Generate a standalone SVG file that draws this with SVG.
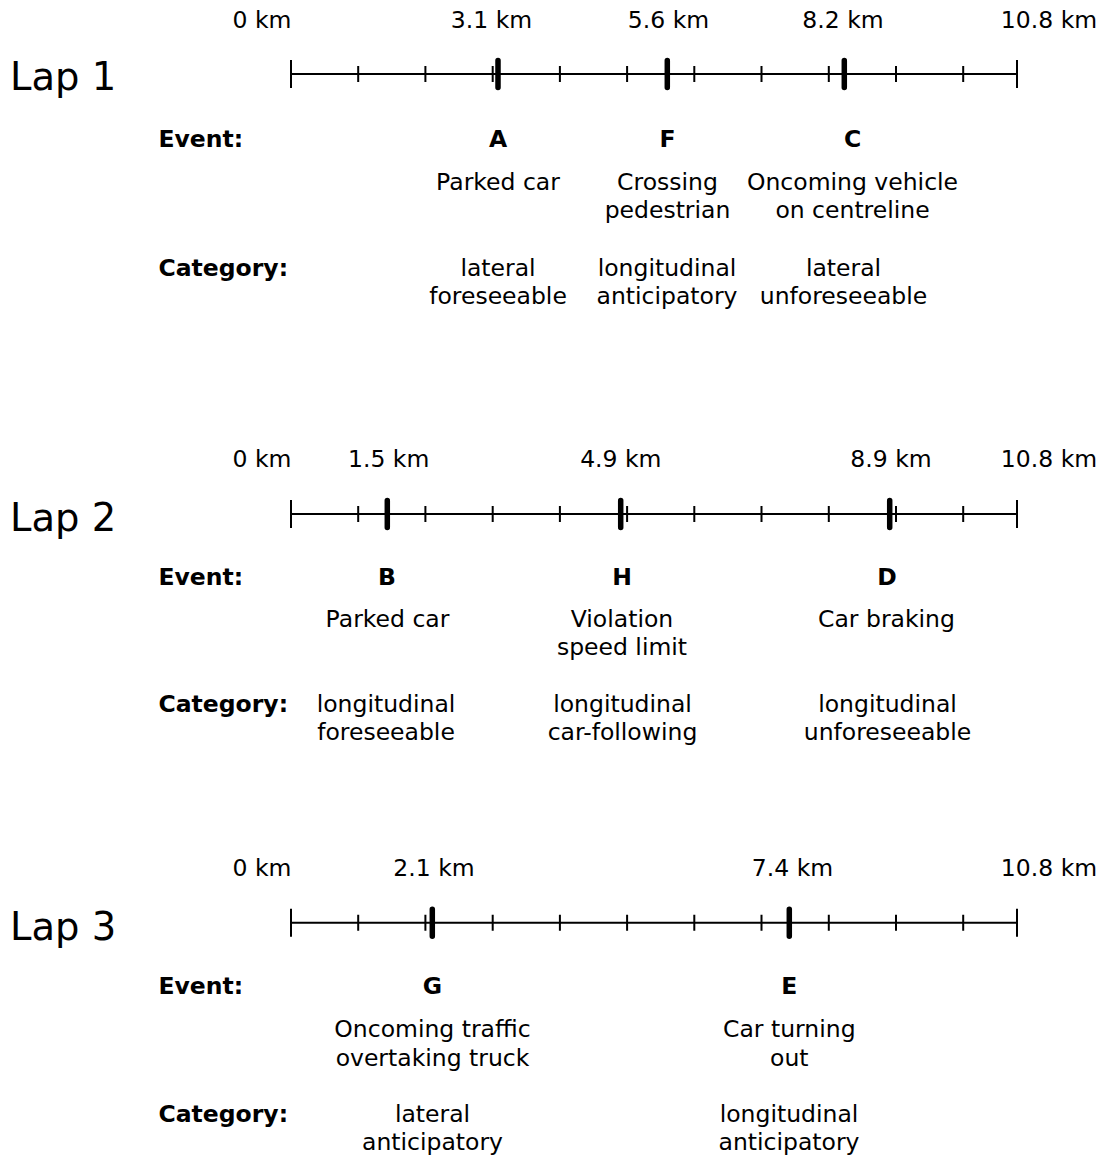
<svg xmlns="http://www.w3.org/2000/svg" width="1105" height="1157" viewBox="0 0 1105 1157">
<style>
text{font-family:"DejaVu Sans","Verdana","Liberation Sans",sans-serif;fill:#000}
.t{font-size:23.5px;text-anchor:middle}
.b{font-size:23.5px;font-weight:bold}
.bc{font-size:23.5px;font-weight:bold;text-anchor:middle}
.lap{font-size:38.5px}
.ax{stroke:#000;stroke-width:2;fill:none}
.mk{stroke:#000;stroke-width:5.5;stroke-linecap:round;fill:none}
</style>
<defs>
<g id="axis">
<path class="ax" d="M291,0H1017M291,-14V14M1017,-14V14M358.2,-8V8M425.4,-8V8M492.7,-8V8M559.9,-8V8M627.1,-8V8M694.3,-8V8M761.5,-8V8M828.8,-8V8M896,-8V8M963.2,-8V8"/>
</g>
</defs>
<rect width="1105" height="1157" fill="#fff"/>

<g id="lap1">
<text class="lap" x="10" y="90">Lap 1</text>
<use href="#axis" transform="translate(0,74)"/>
<g class="t">
<text x="262" y="28.3">0 km</text>
<text x="491.5" y="28.3">3.1 km</text>
<text x="668.5" y="28.3">5.6 km</text>
<text x="843" y="28.3">8.2 km</text>
<text x="1049" y="28.3">10.8 km</text>
</g>
<path class="mk" d="M498,60.5V87.5M667.3,60.5V87.5M844.3,60.5V87.5"/>
<text class="b" x="158.5" y="146.5">Event:</text>
<text class="b" x="158.5" y="275.5">Category:</text>
<g id="evA">
<text class="bc" x="498" y="146.5">A</text>
<text class="t" x="498" y="190">Parked car</text>
<text class="t" x="498" y="275.5">lateral</text>
<text class="t" x="498" y="303.5">foreseeable</text>
</g>
<g id="evF">
<text class="bc" x="667.5" y="146.5">F</text>
<text class="t" x="667.5" y="190">Crossing</text>
<text class="t" x="667.5" y="218">pedestrian</text>
<text class="t" x="667" y="275.5">longitudinal</text>
<text class="t" x="667" y="303.5">anticipatory</text>
</g>
<g id="evC">
<text class="bc" x="852.5" y="146.5">C</text>
<text class="t" x="852.5" y="190">Oncoming vehicle</text>
<text class="t" x="852.5" y="218">on centreline</text>
<text class="t" x="843.5" y="275.5">lateral</text>
<text class="t" x="843.5" y="303.5">unforeseeable</text>
</g>
</g>

<g id="lap2">
<text class="lap" x="10" y="530.5">Lap 2</text>
<use href="#axis" transform="translate(0,514)"/>
<g class="t">
<text x="262" y="466.7">0 km</text>
<text x="388.7" y="466.7">1.5 km</text>
<text x="620.8" y="466.7">4.9 km</text>
<text x="891" y="466.7">8.9 km</text>
<text x="1049" y="466.7">10.8 km</text>
</g>
<path class="mk" d="M387.3,500.5V527.5M620.7,500.5V527.5M889.7,500.5V527.5"/>
<text class="b" x="158.5" y="584.5">Event:</text>
<text class="b" x="158.5" y="711.5">Category:</text>
<g id="evB">
<text class="bc" x="387" y="584.5">B</text>
<text class="t" x="387.5" y="627">Parked car</text>
<text class="t" x="386" y="711.5">longitudinal</text>
<text class="t" x="386" y="740">foreseeable</text>
</g>
<g id="evH">
<text class="bc" x="622" y="584.5">H</text>
<text class="t" x="622" y="627">Violation</text>
<text class="t" x="622" y="655">speed limit</text>
<text class="t" x="622.5" y="711.5">longitudinal</text>
<text class="t" x="622.5" y="740">car-following</text>
</g>
<g id="evD">
<text class="bc" x="887" y="584.5">D</text>
<text class="t" x="886.5" y="627">Car braking</text>
<text class="t" x="887.5" y="711.5">longitudinal</text>
<text class="t" x="887.5" y="740">unforeseeable</text>
</g>
</g>

<g id="lap3">
<text class="lap" x="10" y="940">Lap 3</text>
<use href="#axis" transform="translate(0,922.7)"/>
<g class="t">
<text x="262" y="876">0 km</text>
<text x="434" y="876">2.1 km</text>
<text x="792.5" y="876">7.4 km</text>
<text x="1049" y="876">10.8 km</text>
</g>
<path class="mk" d="M432.3,909.2V936.2M789.3,909.2V936.2"/>
<text class="b" x="158.5" y="994">Event:</text>
<text class="b" x="158.5" y="1121.7">Category:</text>
<g id="evG">
<text class="bc" x="432.3" y="994">G</text>
<text class="t" x="432.5" y="1037">Oncoming traffic</text>
<text class="t" x="432.5" y="1065.5">overtaking truck</text>
<text class="t" x="432.5" y="1121.7">lateral</text>
<text class="t" x="432.5" y="1149.5">anticipatory</text>
</g>
<g id="evE">
<text class="bc" x="789.3" y="994">E</text>
<text class="t" x="789.3" y="1037">Car turning</text>
<text class="t" x="789.3" y="1065.5">out</text>
<text class="t" x="789" y="1121.7">longitudinal</text>
<text class="t" x="789" y="1149.5">anticipatory</text>
</g>
</g>
</svg>
